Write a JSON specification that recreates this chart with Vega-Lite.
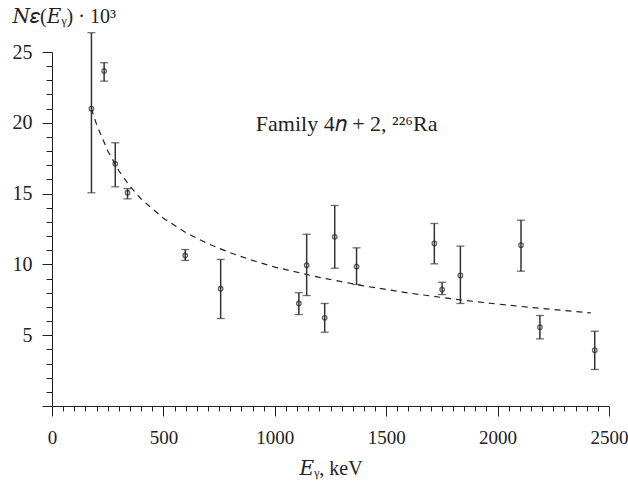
{
  "$schema": "https://vega.github.io/schema/vega-lite/v6.json",
  "width": 557,
  "height": 354,
  "autosize": "none",
  "padding": {"left": 52, "top": 52, "right": 19, "bottom": 78},
  "background": "white",
  "config": {"view": {"stroke": null}, "font": "Liberation Serif"},
  "datasets": {
    "points": [
      {"energy": 177, "eff": 21.0, "low": 15.06, "high": 26.36},
      {"energy": 234, "eff": 23.65, "low": 22.94, "high": 24.24},
      {"energy": 284, "eff": 17.1, "low": 15.48, "high": 18.59},
      {"energy": 339, "eff": 15.06, "low": 14.63, "high": 15.35},
      {"energy": 598, "eff": 10.63, "low": 10.28, "high": 11.05},
      {"energy": 757, "eff": 8.28, "low": 6.18, "high": 10.35},
      {"energy": 1108, "eff": 7.24, "low": 6.46, "high": 8.0},
      {"energy": 1143, "eff": 9.94, "low": 7.8, "high": 12.13},
      {"energy": 1224, "eff": 6.23, "low": 5.21, "high": 7.24},
      {"energy": 1269, "eff": 11.95, "low": 9.73, "high": 14.16},
      {"energy": 1367, "eff": 9.85, "low": 8.58, "high": 11.17},
      {"energy": 1716, "eff": 11.48, "low": 10.04, "high": 12.89},
      {"energy": 1751, "eff": 8.22, "low": 7.87, "high": 8.74},
      {"energy": 1833, "eff": 9.22, "low": 7.24, "high": 11.29},
      {"energy": 2105, "eff": 11.36, "low": 9.52, "high": 13.12},
      {"energy": 2190, "eff": 5.57, "low": 4.74, "high": 6.39},
      {"energy": 2436, "eff": 3.94, "low": 2.58, "high": 5.28}
    ],
    "curve": [
      {"energy": 177, "eff": 21.0},
      {"energy": 200, "eff": 19.89},
      {"energy": 250, "eff": 18.02},
      {"energy": 300, "eff": 16.61},
      {"energy": 350, "eff": 15.51},
      {"energy": 400, "eff": 14.62},
      {"energy": 500, "eff": 13.26},
      {"energy": 600, "eff": 12.25},
      {"energy": 700, "eff": 11.46},
      {"energy": 800, "eff": 10.82},
      {"energy": 900, "eff": 10.28},
      {"energy": 1000, "eff": 9.81},
      {"energy": 1200, "eff": 9.08},
      {"energy": 1400, "eff": 8.48},
      {"energy": 1600, "eff": 7.98},
      {"energy": 1800, "eff": 7.56},
      {"energy": 2000, "eff": 7.2},
      {"energy": 2200, "eff": 6.88},
      {"energy": 2418, "eff": 6.58}
    ],
    "notes": [
      {"energy": 915, "eff": 19.4, "label": "Family 4𝑛 + 2, ²²⁶Ra"}
    ]
  },
  "layer": [
    {
      "data": {"name": "curve"},
      "mark": {"type": "line", "strokeDash": [6, 5], "color": "#222", "strokeWidth": 1.2},
      "encoding": {
        "x": {
          "field": "energy", "type": "quantitative",
          "scale": {"domain": [0, 2500], "nice": false, "zero": false},
          "axis": {
            "values": [0,50,100,150,200,250,300,350,400,450,500,550,600,650,700,750,800,850,900,950,1000,1050,1100,1150,1200,1250,1300,1350,1400,1450,1500,1550,1600,1650,1700,1750,1800,1850,1900,1950,2000,2050,2100,2150,2200,2250,2300,2350,2400,2450,2500],
            "tickCount": 200,
            "format": "d",
            "labelExpr": "datum.value % 500 === 0 ? datum.label : ''",
            "labelOverlap": false,
            "labelBound": false,
            "labelFlush": false,
            "tickSize": {"condition": {"test": "datum.value % 500 === 0", "value": 10}, "value": 5},
            "labelPadding": 12,
            "labelFontSize": 19,
            "labelColor": "#222",
            "domainColor": "#222",
            "tickColor": "#222",
            "grid": false,
            "title": "𝐸ᵧ, keV",
            "titleFont": "Liberation Serif, DejaVu Serif",
            "titleFontSize": 20,
            "titleFontWeight": "normal",
            "titleColor": "#222",
            "titlePadding": 11
          }
        },
        "y": {
          "field": "eff", "type": "quantitative",
          "scale": {"domain": [0, 25], "nice": false},
          "axis": {
            "values": [0,0.5,1,1.5,2,2.5,3,3.5,4,4.5,5,5.5,6,6.5,7,7.5,8,8.5,9,9.5,10,10.5,11,11.5,12,12.5,13,13.5,14,14.5,15,15.5,16,16.5,17,17.5,18,18.5,19,19.5,20,20.5,21,21.5,22,22.5,23,23.5,24,24.5,25],
            "tickCount": 200,
            "format": "d",
            "labelExpr": "datum.value % 5 === 0 && datum.value > 0 ? datum.label : ''",
            "labelOverlap": false,
            "labelBound": false,
            "labelFlush": false,
            "tickSize": {"condition": {"test": "datum.value % 5 === 0", "value": 10}, "value": 6},
            "labelPadding": 10,
            "labelFontSize": 20,
            "labelColor": "#222",
            "domainColor": "#222",
            "tickColor": "#222",
            "grid": false,
            "title": "𝑁𝜀(𝐸ᵧ) · 10³",
            "titleFont": "Liberation Serif, DejaVu Serif",
            "titleAngle": 0,
            "titleAlign": "left",
            "titleBaseline": "alphabetic",
            "titleX": -40,
            "titleY": -30,
            "titleFontSize": 20,
            "titleFontWeight": "normal",
            "titleColor": "#222"
          }
        }
      }
    },
    {
      "data": {"name": "points"},
      "mark": {"type": "rule", "color": "#333", "strokeWidth": 1.5},
      "encoding": {
        "x": {"field": "energy", "type": "quantitative"},
        "y": {"field": "low", "type": "quantitative"},
        "y2": {"field": "high"}
      }
    },
    {
      "data": {"name": "points"},
      "mark": {"type": "tick", "orient": "horizontal", "size": 8, "thickness": 1.3, "color": "#333"},
      "encoding": {
        "x": {"field": "energy", "type": "quantitative"},
        "y": {"field": "low", "type": "quantitative"}
      }
    },
    {
      "data": {"name": "points"},
      "mark": {"type": "tick", "orient": "horizontal", "size": 8, "thickness": 1.3, "color": "#333"},
      "encoding": {
        "x": {"field": "energy", "type": "quantitative"},
        "y": {"field": "high", "type": "quantitative"}
      }
    },
    {
      "data": {"name": "points"},
      "mark": {"type": "point", "shape": "circle", "filled": false, "size": 20, "strokeWidth": 1.3, "color": "#222"},
      "encoding": {
        "x": {"field": "energy", "type": "quantitative"},
        "y": {"field": "eff", "type": "quantitative"}
      }
    },
    {
      "data": {"name": "notes"},
      "mark": {"type": "text", "align": "left", "baseline": "alphabetic", "fontSize": 22, "color": "#222", "font": "Liberation Serif"},
      "encoding": {
        "x": {"field": "energy", "type": "quantitative"},
        "y": {"field": "eff", "type": "quantitative"},
        "text": {"field": "label"}
      }
    }
  ]
}
